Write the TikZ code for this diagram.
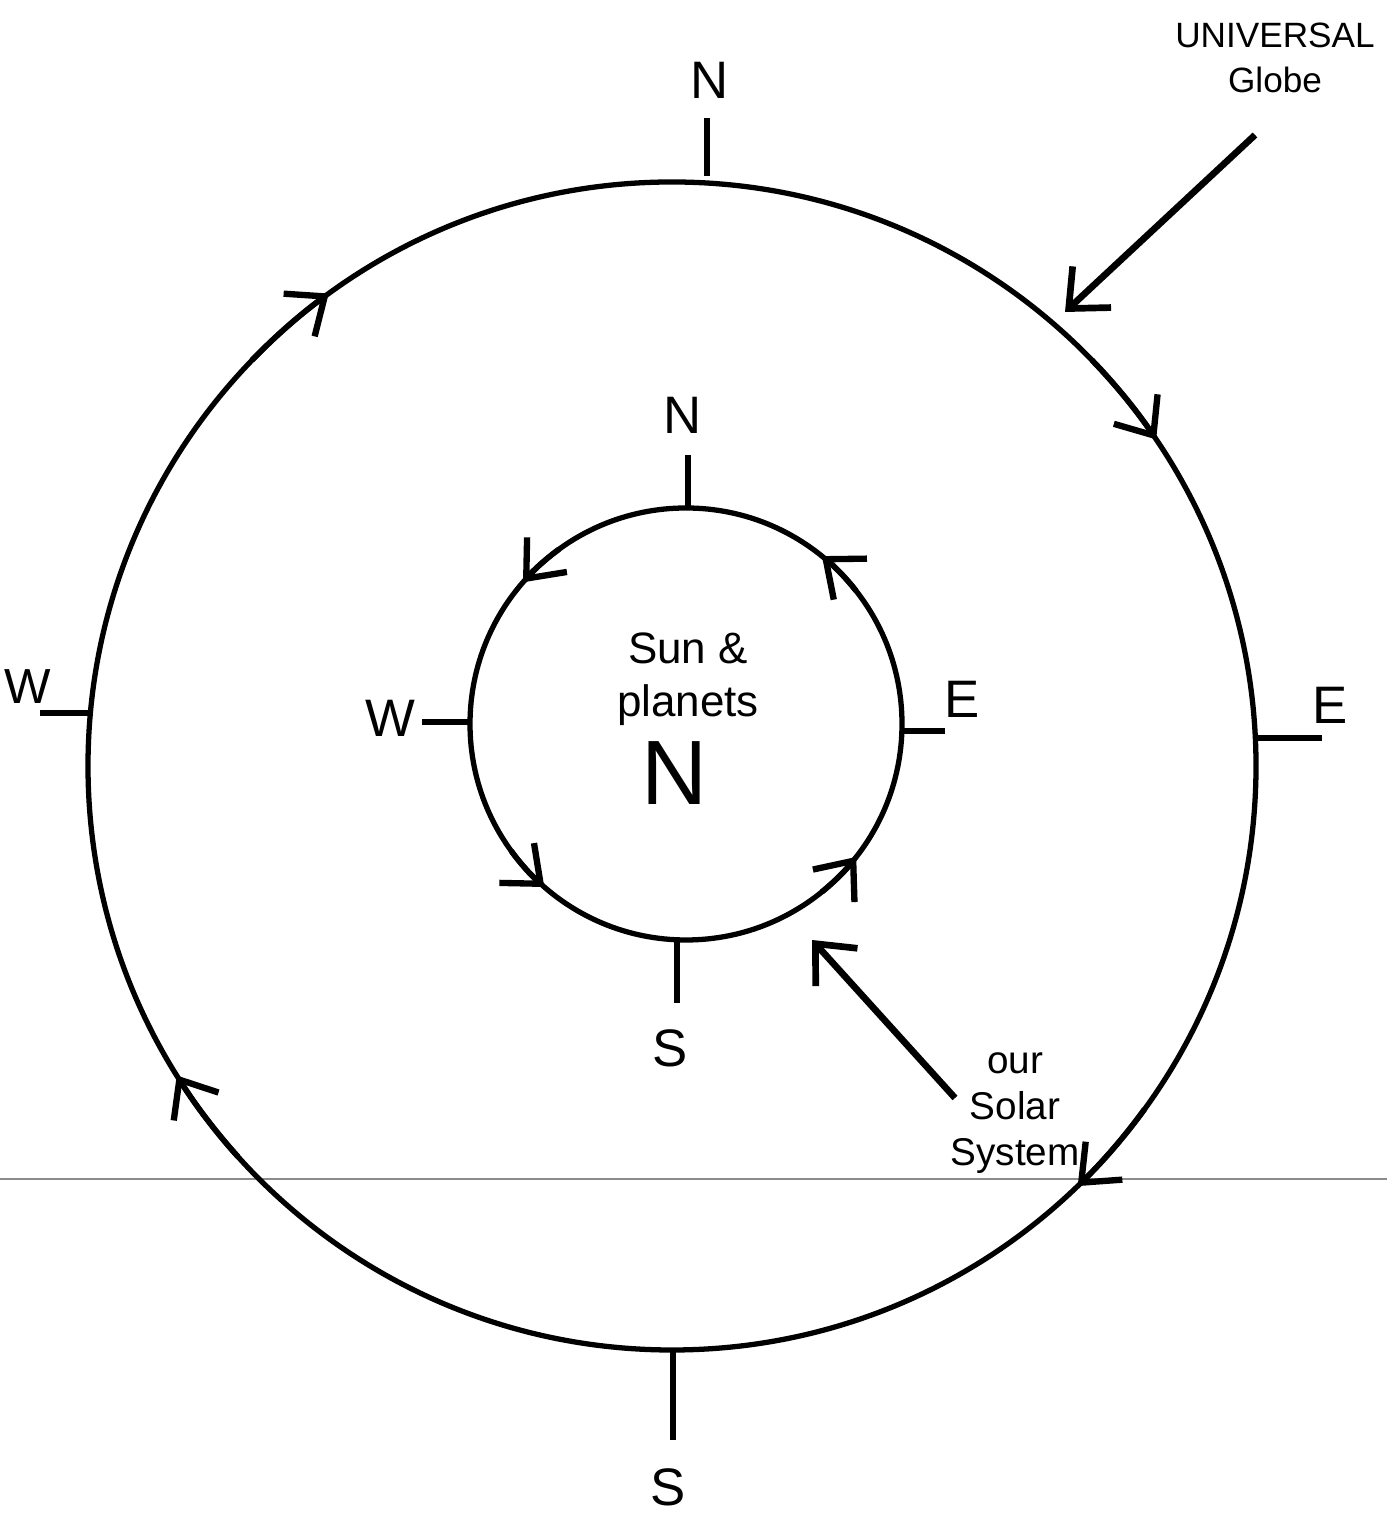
\documentclass[tikz,border=0pt]{standalone}
\usepackage{fontspec}
\setmainfont{Liberation Sans}
\usetikzlibrary{arrows.meta}
\tikzset{
  ring/.style={line width=1.5pt},
  tick/.style={line width=1.9pt},
  chev/.style={line width=1.6pt, -{Straight Barb[length=9pt,width=15pt,line width=1.8pt]}},
  pointer/.style={line width=1.9pt, -{Straight Barb[length=9pt,width=16pt,line width=1.9pt]}},
  lbl/.style={font=\fontsize{15}{15}\selectfont, inner sep=0pt},
  note/.style={font=\fontsize{11}{13}\selectfont, align=center, inner sep=0pt},
  fold/.style={line width=0.5pt, draw=black!45}
}
\begin{document}
\begin{tikzpicture}[x=0.01cm,y=0.01cm]
\useasboundingbox (0,0) rectangle (1387,1513);
% fold line of the scan
\coordinate (foldL) at (0,334);
\coordinate (foldR) at (1387,334);
\draw[fold] (foldL) -- (foldR);
% centres
\coordinate (oc) at (672,747);
\coordinate (ic) at (686,789);
% circles
\draw[ring] (oc) circle[radius=584];
\draw[ring] (ic) circle[radius=216];
% outer arrowheads (clockwise)
\draw[chev] ([shift={(136:584)}]oc) arc[start angle=136,end angle=126,radius=584];
\draw[chev] ([shift={(44:584)}]oc) arc[start angle=44,end angle=34,radius=584];
\draw[chev] ([shift={(-36:584)}]oc) arc[start angle=-36,end angle=-46,radius=584];
\draw[chev] ([shift={(222:584)}]oc) arc[start angle=222,end angle=212,radius=584];
% inner arrowheads (counter-clockwise)
\draw[chev] ([shift={(126:216)}]ic) arc[start angle=126,end angle=139,radius=216];
\draw[chev] ([shift={(38:216)}]ic) arc[start angle=38,end angle=51,radius=216];
\draw[chev] ([shift={(216:216)}]ic) arc[start angle=216,end angle=229,radius=216];
\draw[chev] ([shift={(309:216)}]ic) arc[start angle=309,end angle=322,radius=216];
% outer ticks
\coordinate (oN1) at (707,1337); \coordinate (oN2) at (707,1395);
\coordinate (oS1) at (673,161);  \coordinate (oS2) at (673,73);
\coordinate (oW1) at (92,800);   \coordinate (oW2) at (40,800);
\coordinate (oE1) at (1255,775); \coordinate (oE2) at (1322,775);
\draw[tick] (oN1) -- (oN2);
\draw[tick] (oS1) -- (oS2);
\draw[tick] (oW1) -- (oW2);
\draw[tick] (oE1) -- (oE2);
\node[lbl] (oNl) at (710,1433) {N};
\node[lbl, anchor=south] (oSl) at (668,6) {S};
\node[lbl, anchor=west, font=\fontsize{14}{14}\selectfont] (oWl) at (4,826) {W};
\node[lbl] (oEl) at (1330,808) {E};
% inner ticks
\coordinate (iN1) at (688,1007); \coordinate (iN2) at (688,1058);
\coordinate (iS1) at (677,572);  \coordinate (iS2) at (677,510);
\coordinate (iW1) at (469,791);  \coordinate (iW2) at (422,791);
\coordinate (iE1) at (903,782);  \coordinate (iE2) at (945,782);
\draw[tick] (iN1) -- (iN2);
\draw[tick] (iS1) -- (iS2);
\draw[tick] (iW1) -- (iW2);
\draw[tick] (iE1) -- (iE2);
\node[lbl] (iNl) at (683,1098) {N};
\node[lbl] (iSl) at (670,465) {S};
\node[lbl] (iWl) at (390,795) {W};
\node[lbl] (iEl) at (962,814) {E};
% centre text
\node[note, font=\fontsize{12.5}{15}\selectfont] (sun) at (688,834) {Sun \&\\planets};
\node[font=\fontsize{26}{26}\selectfont, inner sep=0pt] (bigN) at (675,740) {N};
% universal globe
\node[note, font=\fontsize{10}{13}\selectfont] (uni) at (1275,1455) {UNIVERSAL\\Globe};
\coordinate (uA) at (1255,1378);
\coordinate (uB) at (1065,1201);
\draw[pointer] (uA) -- (uB);
% our solar system
\node[note] (sol) at (1015,400) {our\\Solar\\System};
\coordinate (sA) at (955,415);
\coordinate (sB) at (812,573);
\draw[pointer] (sA) -- (sB);
\end{tikzpicture}
\end{document}
